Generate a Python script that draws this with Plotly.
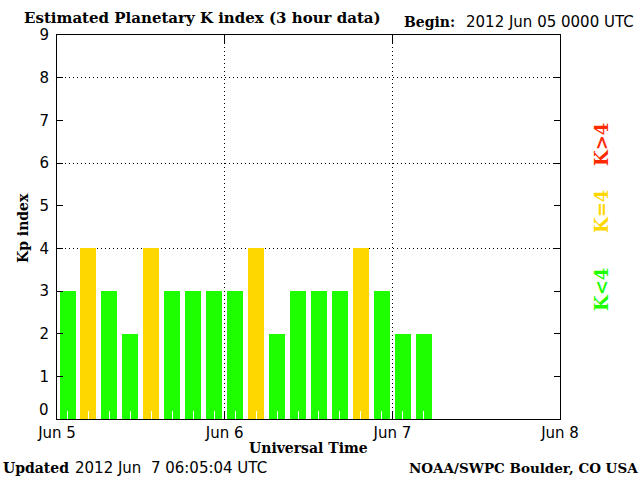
import plotly.graph_objects as go

# ---- data ----
period_start = [
    "2012-06-05 00:00", "2012-06-05 03:00", "2012-06-05 06:00", "2012-06-05 09:00",
    "2012-06-05 12:00", "2012-06-05 15:00", "2012-06-05 18:00", "2012-06-05 21:00",
    "2012-06-06 00:00", "2012-06-06 03:00", "2012-06-06 06:00", "2012-06-06 09:00",
    "2012-06-06 12:00", "2012-06-06 15:00", "2012-06-06 18:00", "2012-06-06 21:00",
    "2012-06-07 00:00", "2012-06-07 03:00",
]
kp_values = [3, 4, 3, 2, 4, 3, 3, 3, 3, 4, 2, 3, 3, 3, 4, 3, 2, 2]
x_tick_vals = ["2012-06-05", "2012-06-06", "2012-06-07", "2012-06-08"]
x_tick_text = ["Jun 5", "Jun 6", "Jun 7", "Jun 8"]
y_tick_vals = [0, 1, 2, 3, 4, 5, 6, 7, 8, 9]
y_tick_text = ["0", "1", "2", "3", "4", "5", "6", "7", "8", "9"]
y_grid_vals = [4, 6, 8]

GREEN = "#1EFF00"
YELLOW = "#FFD700"
RED = "#FF2A00"
colors = [GREEN if v < 4 else (YELLOW if v == 4 else RED) for v in kp_values]

HOUR = 3600 * 1000

fig = go.Figure()
fig.add_trace(go.Bar(
    x=period_start, y=kp_values,
    marker=dict(color=colors, line=dict(width=0)),
    offset=0.36 * HOUR, width=2.29 * HOUR,
    hoverinfo="x+y",
))

SANS = "DejaVu Sans, Liberation Sans, sans-serif"
SERIF = "DejaVu Serif, Liberation Serif, serif"

L, R, T, B = 57, 560, 35, 419
def px(x):
    return (x - L) / (R - L)
def py(y):
    return (B - y) / (B - T)

# the bottom label ("0") sits slightly raised above its tick in the reference,
# so it is drawn as an annotation anchored to the axis value instead
shown_text = [""] + y_tick_text[1:]

fig.update_layout(
    width=640, height=480,
    margin=dict(l=L, r=640 - R, t=T, b=480 - B),
    paper_bgcolor="white", plot_bgcolor="white",
    showlegend=False,
    bargap=0,
    xaxis=dict(
        type="date",
        range=["2012-06-05", "2012-06-08"],
        tickmode="array", tickvals=x_tick_vals, ticktext=x_tick_text,
        ticks="inside", ticklen=8, tickcolor="black", tickwidth=1,
        showline=True, linecolor="black", linewidth=1, mirror="ticks",
        showgrid=True, gridcolor="black", gridwidth=1, griddash="1px,3px",
        zeroline=False,
        tickfont=dict(family=SANS, size=15, color="black"),
        minor=dict(ticks="inside", ticklen=8, tickcolor="white", tickwidth=1,
                   tick0="2012-06-05 01:30", dtick=3 * HOUR, showgrid=False),
        fixedrange=True,
    ),
    yaxis=dict(
        range=[0, 9],
        tickmode="array", tickvals=y_tick_vals, ticktext=shown_text,
        ticks="inside", ticklen=6, tickcolor="black", tickwidth=1,
        showline=True, linecolor="black", linewidth=1, mirror="ticks",
        showgrid=False, zeroline=False,
        ticklabelstandoff=4,
        tickfont=dict(family=SANS, size=15, color="black"),
        minor=dict(tickmode="array", tickvals=y_grid_vals, ticks="", showgrid=True,
                   gridcolor="black", gridwidth=1, griddash="1px,3px"),
        fixedrange=True,
    ),
)

ann = []
def add(text, x, y, xanchor="left", yanchor="middle", family=SERIF, size=14,
        color="black", angle=0):
    ann.append(dict(text=text, x=px(x), y=py(y), xref="paper", yref="paper",
                    xanchor=xanchor, yanchor=yanchor, showarrow=False,
                    textangle=angle, font=dict(family=family, size=size, color=color)))

ann.append(dict(text=y_tick_text[0], x=0, y=y_tick_vals[0], xref="paper", yref="y",
                xanchor="right", yanchor="bottom", xshift=-6, yshift=-2,
                showarrow=False, font=dict(family=SANS, size=15, color="black")))

add("<b>Estimated Planetary K index (3 hour data)</b>", 22, 18, size=15)
add("<b>Begin:</b>", 402, 22, size=14)
add("2012 Jun 05 0000 UTC", 464, 22, family=SANS, size=15)
add("<b>Kp index</b>", 23, 228, xanchor="center", size=14, angle=-90)
add("<b>Universal Time</b>", 308, 448, xanchor="center", size=14)
add("<b>Updated</b>", 1, 468, size=14)
add("2012 Jun\u00a0\u00a07 06:05:04 UTC", 73, 468, family=SANS, size=15)
add("<b>NOAA/SWPC Boulder, CO USA</b>", 640, 468, xanchor="right", size=13.5)
add("<b>K&lt;4</b>", 601, 290, xanchor="center", size=18, color=GREEN, angle=-90)
add("<b>K=4</b>", 601, 212, xanchor="center", size=18, color=YELLOW, angle=-90)
add("<b>K&gt;4</b>", 601, 145, xanchor="center", size=18, color=RED, angle=-90)
fig.update_layout(annotations=ann)

fig.write_html("out.html", config={"displayModeBar": False},
               post_script="document.body.style.margin='0';")
